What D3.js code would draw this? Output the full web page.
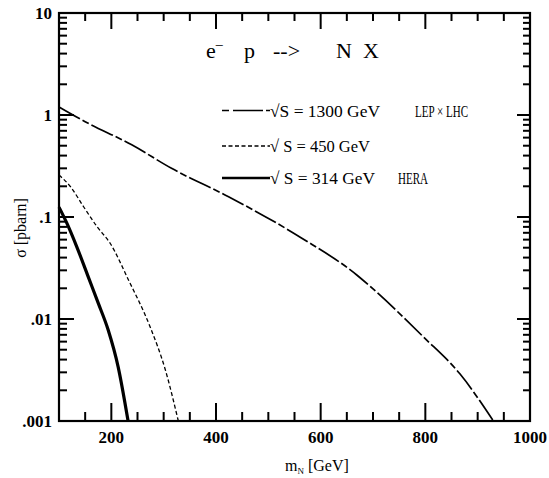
<!DOCTYPE html>
<html>
<head>
<meta charset="utf-8">
<script src="https://cdn.jsdelivr.net/npm/d3@7"></script>
<style>
  html, body { margin: 0; padding: 0; background: #fff; }
  svg { display: block; }
</style>
</head>
<body>
<svg id="chart" width="549" height="478"></svg>
<script>
// ---- data ----
const mass1300  = [100, 150, 239, 315, 424, 564, 669, 694, 796, 866, 930];
const sigma1300 = [1.2, 0.86, 0.51, 0.30, 0.158, 0.062, 0.027, 0.021, 0.0067, 0.0029, 0.001];

const mass450   = [100, 122, 147, 173, 198, 233, 274, 303, 328];
const sigma450  = [0.258, 0.198, 0.126, 0.080, 0.055, 0.024, 0.0084, 0.0032, 0.001];

const mass314   = [100, 115, 134, 157, 175, 194, 213, 232];
const sigma314  = [0.125, 0.087, 0.051, 0.025, 0.0143, 0.0078, 0.0034, 0.001];

const xTickLabels = [200, 400, 600, 800, 1000];
const yTickValues = [10, 1, 0.1, 0.01, 0.001];
const yTickLabels = ["10", "1", ".1", ".01", ".001"];

const legendLabels = ["\u221AS = 1300 GeV", "\u221A S = 450 GeV", "\u221A S = 314 GeV"];
const legendExtra  = ["LEP \u00D7 LHC", "", "HERA"];

// ---- layout ----
const svg = d3.select("#chart");
const L = 59, T = 13, R = 530, B = 421;
const FONT = "Liberation Serif";

const xScale = d3.scaleLinear().domain([100, 1000]).range([L, R]);
const yScale = d3.scaleLog().domain([0.001, 10]).range([B, T]);

// ---- ticks (inward) ----
const xMinor = d3.range(150, 1000, 50).filter(v => xTickLabels.indexOf(v) < 0);
const xMajor = [200, 400, 600, 800];
const yMinor = [];
[0.001, 0.01, 0.1, 1].forEach(d => { for (let k = 2; k <= 9; k++) yMinor.push(d * k); });
const yMajor = [0.01, 0.1, 1];

[[xMinor, B, -9], [xMajor, B, -18], [xMinor, T, 8], [xMajor, T, 16]].forEach(([vals, y0, len]) => {
  vals.forEach(v => {
    svg.append("line")
      .attr("x1", xScale(v)).attr("x2", xScale(v))
      .attr("y1", y0).attr("y2", y0 + len)
      .style("stroke", "black").style("stroke-width", "2px");
  });
});
[[yMinor, L, 8], [yMajor, L, 15], [yMinor, R, -7], [yMajor, R, -13]].forEach(([vals, x0, len]) => {
  vals.forEach(v => {
    svg.append("line")
      .attr("x1", x0).attr("x2", x0 + len)
      .attr("y1", yScale(v)).attr("y2", yScale(v))
      .style("stroke", "black").style("stroke-width", "2px");
  });
});

// frame
svg.append("rect")
  .attr("x", L).attr("y", T).attr("width", R - L).attr("height", B - T)
  .style("fill", "none").style("stroke", "black").style("stroke-width", "2.2px");

// tick labels
svg.selectAll(null).data(xTickLabels).enter().append("text")
  .attr("x", d => xScale(d)).attr("y", B + 22)
  .attr("text-anchor", "middle")
  .style("font-family", FONT).style("font-size", "17px").style("font-weight", "bold")
  .text(d => d);

svg.selectAll(null).data(yTickValues).enter().append("text")
  .attr("x", L - 7).attr("y", d => yScale(d) + 6)
  .attr("text-anchor", "end")
  .style("font-family", FONT).style("font-size", "17px").style("font-weight", "bold")
  .text((d, i) => yTickLabels[i]);

// ---- curves ----
const lineGen = d3.line().x(d => xScale(d[0])).y(d => yScale(d[1])).curve(d3.curveMonotoneX);
const series = [
  { m: mass1300, s: sigma1300, width: 1.7, dash: "24,3,7,3", legDash: "7,4,30,3" },
  { m: mass450,  s: sigma450,  width: 1.3, dash: "4,2.5",    legDash: "4,2.5" },
  { m: mass314,  s: sigma314,  width: 3.2, dash: null,       legDash: null }
];
series.forEach(sr => {
  svg.append("path")
    .datum(sr.m.map((m, i) => [m, sr.s[i]]))
    .attr("d", lineGen)
    .attr("fill", "none").attr("stroke", "#000")
    .attr("stroke-width", sr.width)
    .attr("stroke-dasharray", sr.dash);
});

// ---- title ----
const title = svg.append("text").attr("x", 206).attr("y", 58)
  .style("font-family", FONT).style("font-size", "22px");
title.append("tspan").text("e");
title.append("tspan").attr("dy", -9).style("font-size", "14px").text("\u2013");
title.append("tspan").attr("x", 244).attr("dy", 9).text("p");
title.append("tspan").attr("x", 273).text("-->");
title.append("tspan").attr("x", 336).text("N");
title.append("tspan").attr("x", 363).text("X");

// ---- legend ----
const legY = [110.5, 146, 178];
const legW = [1.6, 1.3, 2.6];
const legLen = [110, 100, 105];
series.forEach((sr, i) => {
  svg.append("line").attr("x1", 222).attr("x2", 270).attr("y1", legY[i]).attr("y2", legY[i])
    .attr("stroke", "#000").attr("stroke-width", legW[i])
    .attr("stroke-dasharray", sr.legDash);
  svg.append("text").attr("x", 270).attr("y", legY[i] + 6)
    .style("font-family", FONT).style("font-size", "17px")
    .attr("textLength", legLen[i]).attr("lengthAdjust", "spacingAndGlyphs")
    .text(legendLabels[i]);
});
svg.append("text").attr("x", 415).attr("y", legY[0] + 6)
  .style("font-family", FONT).style("font-size", "16px")
  .attr("textLength", 53).attr("lengthAdjust", "spacingAndGlyphs").text(legendExtra[0]);
svg.append("text").attr("x", 398).attr("y", legY[2] + 6)
  .style("font-family", FONT).style("font-size", "16px")
  .attr("textLength", 30).attr("lengthAdjust", "spacingAndGlyphs").text(legendExtra[2]);

// ---- axis titles ----
const xt = svg.append("text").attr("x", 285).attr("y", 471)
  .style("font-family", FONT).style("font-size", "16px");
xt.append("tspan").text("m");
xt.append("tspan").style("font-size", "9px").attr("dy", 3).text("N");
xt.append("tspan").attr("dy", -3).text(" [GeV]");

svg.append("text")
  .attr("transform", "translate(26,228) rotate(-90)")
  .attr("text-anchor", "middle")
  .style("font-family", FONT).style("font-size", "16px")
  .text("\u03C3 [pbarn]");
</script>
</body>
</html>
